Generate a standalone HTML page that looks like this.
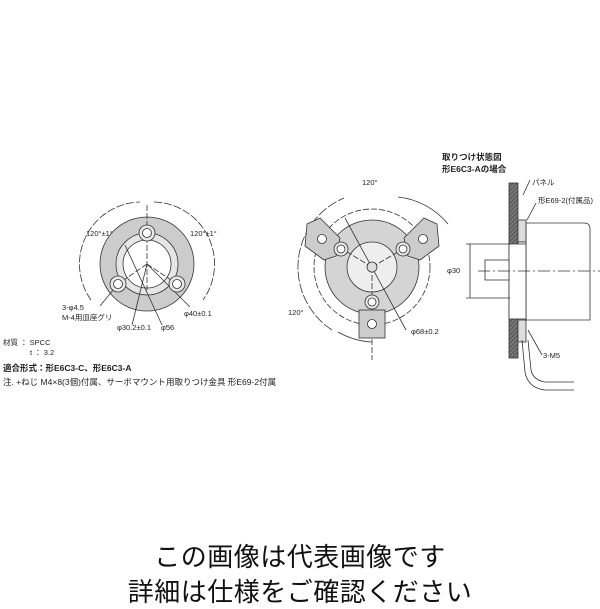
<!DOCTYPE html><html><head><meta charset="utf-8"><style>
body{margin:0;background:#fff;width:600px;height:600px;overflow:hidden;font-family:"Liberation Sans","Noto Sans CJK JP",sans-serif}
svg{position:absolute;left:0;top:0}
.t{font-family:"Liberation Sans","Noto Sans CJK JP",sans-serif;fill:#222}
.big{position:absolute;left:0;width:600px;text-align:center;font-size:26px;color:#111;letter-spacing:0.5px}
</style></head><body>
<svg width="600" height="600" viewBox="0 0 600 600">
<defs><pattern id="h" width="3" height="3" patternUnits="userSpaceOnUse" patternTransform="rotate(45)"><rect width="3" height="3" fill="#777"/><line x1="0" y1="0" x2="0" y2="3" stroke="#333" stroke-width="1"/></pattern></defs>
<g stroke="#333" stroke-width="0.8" fill="none">
<circle cx="147" cy="264" r="47" fill="#ccc"/>
<circle cx="147" cy="264" r="31" fill="#e6e6e6"/>
<circle cx="147" cy="264" r="24" fill="#fff"/>
<path d="M91,300 A62,62 0 0 1 140,202" stroke-dasharray="8 2"/>
<path d="M154,202 A62,62 0 0 1 203,300" stroke-dasharray="8 2"/>
<line x1="147" y1="205" x2="147" y2="290" stroke-dasharray="6 2"/>
<line x1="147" y1="264" x2="118" y2="284" stroke-dasharray="6 2"/>
<line x1="147" y1="264" x2="177" y2="284" stroke-dasharray="6 2"/>
<line x1="125" y1="245" x2="162" y2="325"/>
<line x1="147" y1="264" x2="132" y2="325"/>
<line x1="147" y1="264" x2="190" y2="307"/>
<line x1="118" y1="284" x2="100" y2="306"/>
<g fill="#e8e8e8"><circle cx="147" cy="233" r="8"/><circle cx="118" cy="284" r="8"/><circle cx="177" cy="284" r="8"/></g>
<g fill="#fff"><circle cx="147" cy="233" r="4.5"/><circle cx="118" cy="284" r="4.5"/><circle cx="177" cy="284" r="4.5"/></g>
<path d="M332,330 A75,75 0 0 1 344,198" stroke-dasharray="10 2"/>
<path d="M398,197 A75,75 0 0 1 448,224"/>
<path d="M338,332 A76,76 0 0 0 372,342"/>
<circle cx="372" cy="267" r="58" stroke-dasharray="6 2"/>
<circle cx="372" cy="267" r="47" fill="#d4d4d4"/>
<circle cx="372" cy="267" r="25" fill="#eee"/>
<line x1="372" y1="267" x2="322" y2="237" stroke-dasharray="6 2"/>
<line x1="372" y1="267" x2="424" y2="237" stroke-dasharray="6 2"/>
<line x1="372" y1="267" x2="372" y2="360" stroke-dasharray="6 2"/>
<line x1="345" y1="218" x2="406" y2="330"/>
<circle cx="372" cy="267" r="5" fill="#ddd"/>
<g fill="#ccc">
<path d="M307,224 L320,218 L340,238 L336,256 L324,260 L305,246 Z"/>
<path d="M437,224 L424,218 L404,238 L408,256 L420,260 L439,246 Z"/>
<rect x="359" y="310" width="26" height="28"/>
</g>
<g fill="#fff"><circle cx="322" cy="239" r="4.5"/><circle cx="423" cy="239" r="4.5"/><circle cx="372" cy="324" r="4.5"/></g>
<g fill="#e8e8e8"><circle cx="341" cy="249" r="7"/><circle cx="403" cy="249" r="7"/><circle cx="372" cy="302" r="7"/></g>
<g fill="#fff"><circle cx="341" cy="249" r="4"/><circle cx="403" cy="249" r="4"/><circle cx="372" cy="302" r="4"/></g>
<rect x="509" y="183" width="9" height="175" fill="url(#h)"/>
<path d="M526,223 L584,223 Q590,223 590,229 L590,320 L526,320 Z" fill="#fff"/>
<rect x="518" y="220" width="8" height="22" fill="#ddd"/>
<rect x="518" y="320" width="8" height="22" fill="#ddd"/>
<rect x="518" y="242" width="8" height="76" fill="#fff"/>
<rect x="509" y="244" width="17" height="75" fill="#fff"/>
<rect x="485" y="260" width="24" height="20" fill="#fff"/>
<line x1="478" y1="271" x2="600" y2="271" stroke-dasharray="12 3 2 3"/>
<line x1="470" y1="244" x2="470" y2="298"/>
<line x1="466" y1="244" x2="510" y2="244"/><line x1="466" y1="298" x2="510" y2="298"/>
<path d="M528,340 L531,370 Q533,380 545,382 L574,382"/>
<path d="M522,340 L525,372 Q528,388 545,390 L574,390"/>
<line x1="530" y1="180" x2="523" y2="195"/>
<line x1="536" y1="203" x2="527" y2="220"/>
<line x1="542" y1="355" x2="528" y2="330"/>
</g>
<g class="t" font-size="7.5">
<text x="86" y="236">120°±1°</text><text x="190" y="236">120°±1°</text>
<text x="62" y="310">3-φ4.5</text><text x="62" y="320">M-4用皿座グリ</text>
<text x="117" y="330">φ30.2±0.1</text><text x="161" y="330">φ56</text><text x="184" y="316">φ40±0.1</text>
<text x="3" y="345">材質 ： SPCC</text><text x="30" y="355">t ： 3.2</text>
<text x="3" y="371" font-size="8.5" font-weight="bold">適合形式：形E6C3-C、形E6C3-A</text>
<text x="3" y="385" font-size="8.5">注. +ねじ M4×8(3個)付属、サーボマウント用取りつけ金具 形E69-2付属</text>
<text x="362" y="185">120°</text><text x="288" y="315">120°</text><text x="411" y="334">φ68±0.2</text>
<text x="442" y="160" font-size="8.5" font-weight="bold">取りつけ状態図</text>
<text x="442" y="172" font-size="8.5" font-weight="bold">形E6C3-Aの場合</text>
<text x="532" y="185">パネル</text><text x="538" y="203">形E69-2(付属品)</text>
<text x="447" y="273">φ30</text><text x="543" y="358">3-M5</text>
</g>
</svg>
<div class="big" style="top:537px">この画像は代表画像です</div>
<div class="big" style="top:572px">詳細は仕様をご確認ください</div>
</body></html>
